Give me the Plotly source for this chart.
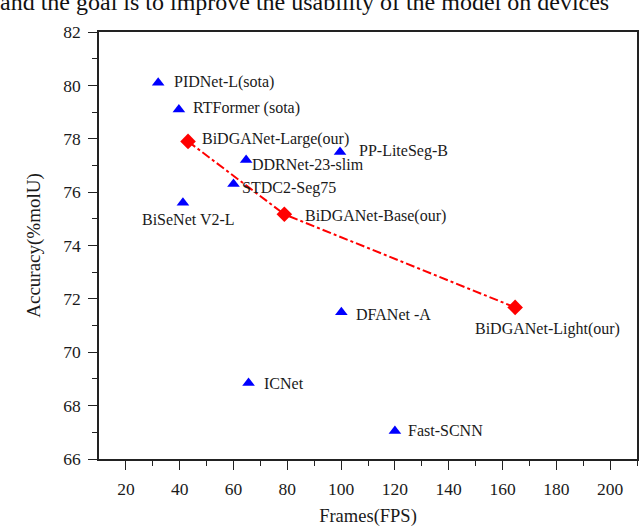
import plotly.graph_objects as go

# Other methods (blue triangles)
other_names = ["PIDNet-L(sota)", "RTFormer (sota)", "PP-LiteSeg-B", "DDRNet-23-slim",
               "STDC2-Seg75", "BiSeNet V2-L", "DFANet -A", "ICNet", "Fast-SCNN"]
other_fps = [32.0, 39.7, 99.6, 64.7, 60.0, 41.2, 100.1, 65.6, 120.0]
other_acc = [80.1, 79.1, 77.5, 77.2, 76.3, 75.6, 71.5, 68.85, 67.05]

# Our methods (red diamonds)
our_names = ["BiDGANet-Large(our)", "BiDGANet-Base(our)", "BiDGANet-Light(our)"]
our_fps = [43.1, 78.9, 164.7]
our_acc = [77.9, 75.17, 71.68]

x_ticks = [20, 40, 60, 80, 100, 120, 140, 160, 180, 200]
x_minor = [30, 50, 70, 90, 110, 130, 150, 170, 190, 210]
y_ticks = [66, 68, 70, 72, 74, 76, 78, 80, 82]
y_minor = [67, 69, 71, 73, 75, 77, 79, 81]

page_text = "and the goal is to improve the usability of the model on devices"

# label offsets (px) and anchors
other_off = {
    "PIDNet-L(sota)": (14, 1, "left"),
    "RTFormer (sota)": (12, 1, "left"),
    "PP-LiteSeg-B": (17, 1, "left"),
    "DDRNet-23-slim": (3.5, -4.5, "left"),
    "STDC2-Seg75": (6, -3.5, "left"),
    "BiSeNet V2-L": (6, -17, "center"),
    "DFANet -A": (13, -2.5, "left"),
    "ICNet": (13, -1, "left"),
    "Fast-SCNN": (11, 0, "left"),
}
our_off = {
    "BiDGANet-Large(our)": (11.5, 2.7, "left"),
    "BiDGANet-Base(our)": (19, -1.6, "left"),
    "BiDGANet-Light(our)": (32.5, -21.3, "center"),
}

SERIF = "Liberation Serif"
TXT = "#1a1a1a"

fig = go.Figure()
fig.add_trace(go.Scatter(
    x=our_fps, y=our_acc, mode="lines",
    line=dict(color="#FF0000", width=2, dash="dashdot"),
    showlegend=False, hoverinfo="skip"))
fig.add_trace(go.Scatter(
    x=other_fps, y=other_acc, mode="markers",
    marker=dict(symbol="triangle-up", size=11, color="#0000FF"),
    showlegend=False))
fig.add_trace(go.Scatter(
    x=our_fps, y=our_acc, mode="markers",
    marker=dict(symbol="diamond", size=12, color="#FF0000"),
    showlegend=False))

annotations = []
for names, xs, ys, offs in [(other_names, other_fps, other_acc, other_off),
                            (our_names, our_fps, our_acc, our_off)]:
    for n, x, y in zip(names, xs, ys):
        dx, dy, anc = offs[n]
        annotations.append(dict(x=x, y=y, text=n, showarrow=False, xanchor=anc,
                                yanchor="middle", xshift=dx, yshift=dy,
                                font=dict(family=SERIF, size=16, color=TXT)))

# clipped line of surrounding page text
annotations.append(dict(xref="paper", yref="paper", x=0, y=1.0, xshift=-101, yshift=15,
                        xanchor="left", yanchor="bottom", showarrow=False,
                        text=page_text,
                        font=dict(family=SERIF, size=24, color="#111111")))

axis_common = dict(
    showgrid=False, zeroline=False, showline=True, linecolor="#222222", linewidth=1.6,
    mirror=True, ticks="outside", ticklen=9, tickwidth=1.4, tickcolor="#222222",
    ticklabelstandoff=4,
    tickfont=dict(family=SERIF, size=17.5, color=TXT),
)

fig.update_layout(
    width=640, height=527,
    margin=dict(l=99, r=1, t=32, b=63),
    paper_bgcolor="white", plot_bgcolor="white",
    xaxis=dict(range=[10, 210], tickvals=x_ticks,
               minor=dict(tickvals=x_minor, ticks="outside", ticklen=5, tickcolor="#222222",
                          tickwidth=1.3),
               title=dict(text="Frames(FPS)", font=dict(family=SERIF, size=18.5, color=TXT),
                          standoff=14),
               **axis_common),
    yaxis=dict(range=[66, 82], tickvals=y_ticks,
               minor=dict(tickvals=y_minor, ticks="outside", ticklen=5, tickcolor="#222222",
                          tickwidth=1.3),
               title=dict(text="Accuracy(%molU)", font=dict(family=SERIF, size=19, color=TXT),
                          standoff=18),
               **axis_common),
    annotations=annotations,
)

fig.write_html("out.html", config={"displayModeBar": False},
               post_script="document.body.style.margin='0';document.body.style.overflow='hidden';")
